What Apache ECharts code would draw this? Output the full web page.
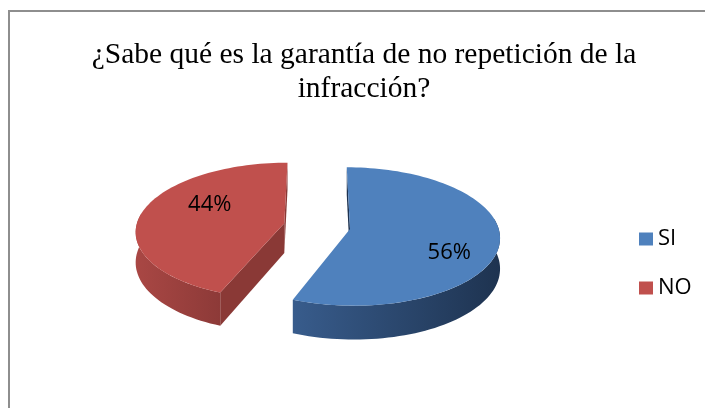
<!DOCTYPE html>
<html><head><meta charset="utf-8">
<script src="https://cdn.jsdelivr.net/npm/echarts@6/dist/echarts.min.js"></script>
<style>html,body{margin:0;padding:0;background:#fff;overflow:hidden}#c{width:705px;height:408px}</style>
</head><body><div id="c"></div>
<script>
// ---- data ----
const categories = ['SI', 'NO'];
const values = [56, 44];
const titleLines = ['¿Sabe qué es la garantía de no repetición de la', 'infracción?'];

// ---- styling / layout ----
const topColors = ['#4f81bd', '#c0504d'];
const sideColors = [['#385c8c', '#1e3350'], ['#a94744', '#8d3a38']];
const radialColors = ['#1d3250', '#8a3936'];
const L = { cx: 317, cy: 226, rx: 148, ry: 67.7, p: 0.1095, explode: 0.226, depth: 30,
            labelR: [0.72, 0.6], labelRot: 17.5 };

const total = values.reduce((a, b) => a + b, 0);
const starts = [];
let acc = 0;
values.forEach(v => { starts.push(acc / total * 2 * Math.PI); acc += v; });

function proj(u, v) {
  const s = 1 / (1 + L.p * v);
  return [L.cx + L.rx * u * s, L.cy - L.ry * v * s, s];
}

function makeRender(i) {
  return function (params, api) {
    const val = api.value(0);
    const a0 = starts[i], a1 = a0 + val / total * 2 * Math.PI;
    const m = (a0 + a1) / 2;
    const au = L.explode * Math.sin(m), av = L.explode * Math.cos(m);
    const P = t => proj(au + Math.sin(t), av + Math.cos(t));
    const top = pt => [pt[0], pt[1]];
    const bot = pt => [pt[0], pt[1] + L.depth * pt[2]];
    const A = proj(au, av);
    const arc = (b0, b1) => {
      const pts = [];
      const n = Math.max(2, Math.ceil(90 * (b1 - b0) / Math.PI));
      for (let k = 0; k <= n; k++) pts.push(P(b0 + (b1 - b0) * k / n));
      return pts;
    };
    const children = [];
    // outer curved side (front part)
    const f0 = Math.max(a0, Math.PI / 2 - 0.15), f1 = Math.min(a1, 1.5 * Math.PI + 0.15);
    if (f1 > f0) {
      const pts = arc(f0, f1);
      const poly = pts.map(top).concat(pts.slice().reverse().map(bot));
      children.push({ type: 'polygon', shape: { points: poly },
        style: { fill: new echarts.graphic.LinearGradient(0, 0, 1, 0, [
          { offset: 0, color: sideColors[i][0] }, { offset: 1, color: sideColors[i][1] }]) } });
    }
    // radial faces (only if facing the viewer)
    [[a0, -1], [a1, 1]].forEach(([t, sign]) => {
      const E = P(t);
      const poly = [top(A), top(E), bot(E), bot(A)];
      let area = 0;
      for (let k = 0; k < 4; k++) {
        const p1 = poly[k], p2 = poly[(k + 1) % 4];
        area += p1[0] * p2[1] - p2[0] * p1[1];
      }
      if (area * sign > 0) children.push({ type: 'polygon', shape: { points: poly }, style: { fill: radialColors[i] } });
    });
    // top face
    const tp = [top(A)].concat(arc(a0, a1).map(top));
    children.push({ type: 'polygon', shape: { points: tp }, style: { fill: topColors[i] } });
    // label
    const la = m + L.labelRot * Math.PI / 180, lr = L.labelR[i];
    const LP = proj(au + lr * Math.sin(la), av + lr * Math.cos(la));
    children.push({ type: 'text', x: LP[0], y: LP[1],
      style: { text: Math.round(val / total * 100) + '%', fill: '#000',
               font: '22px "Open Sans"', align: 'center', verticalAlign: 'middle' } });
    return { type: 'group', children };
  };
}

const chart = echarts.init(document.getElementById('c'), null, { renderer: 'canvas' });
chart.setOption({
  animation: false,
  backgroundColor: '#fff',
  title: {
    text: titleLines.join('\n'),
    left: 359, top: 33, textAlign: 'center',
    textStyle: { fontFamily: 'Liberation Serif', fontSize: 29.5, fontWeight: 'normal', color: '#000', lineHeight: 34 }
  },
  legend: {
    data: categories, orient: 'vertical', left: 634, top: 222,
    icon: 'rect', itemWidth: 14, itemHeight: 13, itemGap: 25,
    textStyle: { fontFamily: 'Open Sans', fontSize: 22, color: '#000', lineHeight: 24 }
  },
  graphic: [{
    type: 'polyline', silent: true, z: -10,
    shape: { points: [[9, 420], [9, 11], [720, 11]] },
    style: { fill: 'none', stroke: '#8e8e8e', lineWidth: 2 }
  }],
  series: categories.map((name, i) => ({
    type: 'custom', name, coordinateSystem: 'none',
    itemStyle: { color: topColors[i] },
    data: [[values[i]]],
    renderItem: makeRender(i)
  }))
});
</script></body></html>
